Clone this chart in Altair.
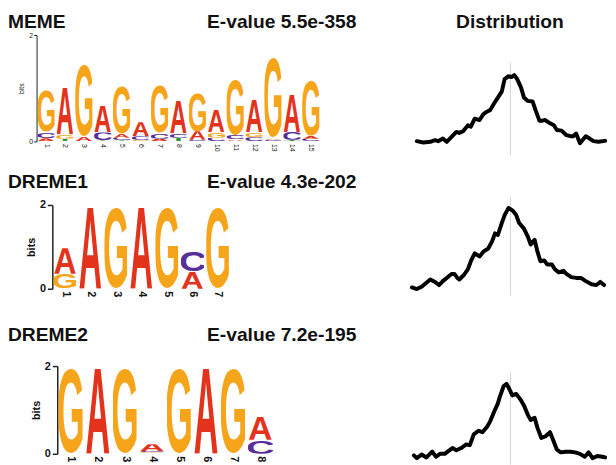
import base64
import pandas as pd
import altair as alt

# ---------------- data ----------------
MOTIF_NAMES = ["MEME", "DREME1", "DREME2"]
EVALUES = ["E-value 5.5e-358", "E-value 4.3e-202", "E-value 7.2e-195"]
DIST_TITLE = "Distribution"

# information content (bits) per letter and position
MEME_A = [0.06, 0.90, 0.09, 0.50, 0.07, 0.26, 0.05, 0.62, 0.16, 0.42, 0.04, 0.61, 0.04, 0.72, 0.06]
MEME_C = [0.12, 0.00, 0.00, 0.15, 0.05, 0.07, 0.11, 0.08, 0.03, 0.07, 0.08, 0.08, 0.03, 0.15, 0.05]
MEME_G = [0.80, 0.09, 1.40, 0.00, 0.93, 0.03, 0.92, 0.00, 0.74, 0.10, 1.08, 0.09, 1.56, 0.00, 1.08]
MEME_T = [0.00, 0.05, 0.00, 0.02, 0.02, 0.00, 0.00, 0.07, 0.00, 0.00, 0.00, 0.00, 0.00, 0.03, 0.00]

DREME1_A = [0.61, 2.00, 0.00, 2.00, 0.00, 0.42, 0.00]
DREME1_C = [0.00, 0.00, 0.00, 0.00, 0.00, 0.50, 0.00]
DREME1_G = [0.36, 0.00, 2.00, 0.00, 2.00, 0.00, 2.00]
DREME1_T = [0.00, 0.00, 0.00, 0.00, 0.00, 0.00, 0.00]

DREME2_A = [0.00, 2.00, 0.00, 0.15, 0.00, 2.00, 0.00, 0.54]
DREME2_C = [0.00, 0.00, 0.00, 0.03, 0.00, 0.00, 0.00, 0.32]
DREME2_G = [2.00, 0.00, 2.00, 0.02, 2.00, 0.00, 2.00, 0.00]
DREME2_T = [0.00, 0.00, 0.00, 0.015, 0.00, 0.00, 0.00, 0.00]

# site distribution curves (position relative to centre, relative density)
DIST1_POS = [-97, -90, -83, -78, -75, -70, -66, -61, -56, -53, -49, -44, -41, -37, -32, -28, -24,
             -21, -17, -13, -9, -6, -2, 1, 4, 7, 11, 14, 18, 23, 26, 30, 33, 36, 41, 45, 48, 53,
             58, 62, 65, 68, 72, 76, 78, 82, 86, 91, 98]
DIST1_VAL = [0.00, -0.02, -0.01, 0.015, 0.00, 0.04, -0.01, 0.066, 0.14, 0.125, 0.15, 0.24, 0.22,
             0.34, 0.32, 0.41, 0.45, 0.47, 0.57, 0.66, 0.75, 0.94, 0.985, 0.97, 1.00, 0.94, 0.81,
             0.66, 0.61, 0.60, 0.47, 0.31, 0.31, 0.32, 0.27, 0.24, 0.17, 0.16, 0.09, 0.075, 0.075,
             0.115, -0.03, 0.04, 0.075, 0.04, 0.00, -0.01, 0.005]

DIST2_POS = [-102, -97, -92, -87, -83, -78, -74, -70, -66, -61, -58, -55, -53, -48, -44, -41, -37,
             -32, -28, -23, -19, -16, -13, -9, -6, -2, 2, 6, 9, 14, 18, 21, 25, 28, 31, 35, 38, 43,
             46, 50, 55, 58, 63, 68, 73, 78, 84, 89, 93, 97]
DIST2_VAL = [0.00, -0.02, 0.01, 0.06, 0.10, 0.07, 0.03, 0.08, 0.12, 0.17, 0.17, 0.12, 0.10, 0.16,
             0.23, 0.33, 0.43, 0.39, 0.45, 0.49, 0.58, 0.68, 0.66, 0.81, 0.91, 1.00, 0.97, 0.91,
             0.81, 0.74, 0.64, 0.54, 0.60, 0.45, 0.33, 0.34, 0.29, 0.29, 0.23, 0.19, 0.21, 0.17,
             0.13, 0.12, 0.12, 0.08, 0.04, 0.03, 0.07, 0.03]

DIST3_POS = [-100, -97, -92, -87, -81, -77, -73, -68, -65, -60, -56, -51, -46, -42, -38, -33, -29,
             -24, -21, -17, -13, -11, -7, -4, -2, 2, 6, 11, 14, 18, 21, 25, 28, 32, 36, 41, 44, 48,
             52, 57, 62, 67, 72, 77, 81, 85, 90, 95, 98]
DIST3_VAL = [0.01, -0.03, 0.02, -0.02, 0.06, -0.01, 0.03, 0.03, 0.06, 0.11, 0.08, 0.11, 0.16, 0.15,
             0.30, 0.35, 0.33, 0.41, 0.48, 0.61, 0.73, 0.82, 0.97, 1.00, 0.95, 0.84, 0.86, 0.77,
             0.70, 0.57, 0.50, 0.53, 0.39, 0.25, 0.27, 0.33, 0.23, 0.09, 0.05, 0.06, 0.06, 0.05,
             0.03, -0.01, 0.05, -0.03, 0.00, -0.01, -0.02]

# ---------------- styling ----------------
FONT = "Liberation Sans"
COLORS = {"A": "#e3331c", "C": "#5a2e98", "G": "#f6a51b", "T": "#27983a"}
# approximate glyph ink boxes (font units) for a bold Helvetica-like font
GLYPH_BOX = {"A": (0, 0, 1479, 1466), "C": (98, -25, 1380, 1491),
             "G": (96, -25, 1490, 1491), "T": (40, 0, 1210, 1466)}


def letter_url(ch):
    x0, y0, x1, y1 = GLYPH_BOX[ch]
    w, h = x1 - x0, y1 - y0
    svg = (f'<svg xmlns="http://www.w3.org/2000/svg" width="{w}" height="{h}" '
           f'viewBox="{x0} {-y1} {w} {h}" preserveAspectRatio="none">'
           f'<text x="0" y="0" font-family="Liberation Sans, Arial, Helvetica, sans-serif" '
           f'font-weight="700" font-size="2048" fill="{COLORS[ch]}">{ch}</text></svg>')
    return "data:image/svg+xml;base64," + base64.b64encode(svg.encode()).decode()


URLS = {ch: letter_url(ch) for ch in "ACGT"}


def logo_frame(a, c, g, t):
    cols = {"A": a, "C": c, "G": g, "T": t}
    rows = []
    for i in range(len(a)):
        stack = sorted((cols[l][i], l) for l in "ACGT" if cols[l][i] > 0)
        base = 0.0
        for h, l in stack:
            rows.append({"pos": i + 1, "xa": i + 1 - 0.46, "xb": i + 1 + 0.46,
                         "y0": base, "y1": base + h, "letter": l, "url": URLS[l]})
            base += h
    return pd.DataFrame(rows)


def text_layer(txt, x, y, align="left"):
    return alt.Chart(pd.DataFrame({"t": [txt]})).mark_text(
        align=align, baseline="alphabetic", font=FONT, fontSize=19.5,
        fontWeight="bold", color="#111111"
    ).encode(text="t:N", x=alt.value(x), y=alt.value(y))


def logo_chart(df, n, width, height, x_start, axis_shift, name, evalue, title_y, big):
    lab = 11 if big else 7
    xaxis = alt.Axis(values=list(range(1, n + 1)), labelAngle=90, ticks=False, domain=False,
                     grid=False, labelFontSize=lab, labelFont=FONT,
                     labelFontWeight="bold" if big else "normal", labelColor="#111111",
                     labelPadding=2, labelOverlap=False, labelFlush=False, title=None, format="d")
    yaxis = alt.Axis(values=[0, 1, 2], grid=False, labelFontSize=lab, labelFont=FONT,
                     labelFontWeight="bold" if big else "normal", labelColor="#111111",
                     tickSize=5 if big else 3, labelPadding=2 if big else 1,
                     domainColor="#222222", tickColor="#222222",
                     domainWidth=1.5 if big else 1, tickWidth=1.5 if big else 1,
                     labelOverlap=False, labelFlush=False, format="d", offset=axis_shift,
                     title="bits", titleFont=FONT, titleFontSize=lab,
                     titleFontWeight="bold" if big else "normal", titleColor="#111111",
                     titlePadding=3 if big else 4)
    letters = alt.Chart(df).mark_image(aspect=False).encode(
        x=alt.X("xa:Q", scale=alt.Scale(domain=[x_start, n + 0.5], nice=False, zero=False),
                axis=xaxis),
        x2="xb:Q",
        y=alt.Y("y1:Q", scale=alt.Scale(domain=[0, 2], nice=False), axis=yaxis),
        y2="y0:Q",
        url=alt.Url("url:N"),
    )
    return alt.layer(
        letters,
        text_layer(name, -29, title_y),
        text_layer(evalue, 173, title_y),
    ).properties(width=width, height=height)


def dist_chart(pos, val, height, lo, hi, rule_top, rule_bot, title=None, title_y=0):
    df = pd.DataFrame({"pos": pos, "val": val})
    xs = alt.Scale(domain=[-102, 100], nice=False, zero=False)
    ys = alt.Scale(domain=[lo, hi], nice=False, zero=False)
    rule = alt.Chart(pd.DataFrame({"c": [0], "top": [rule_top], "bot": [rule_bot]})).mark_rule(
        color="#d4d4d4", strokeWidth=1
    ).encode(x=alt.X("c:Q", scale=xs, axis=None), y=alt.Y("top:Q", scale=ys, axis=None), y2="bot:Q")
    line = alt.Chart(df).mark_line(
        color="#000000", strokeWidth=4, strokeJoin="round", strokeCap="round"
    ).encode(x=alt.X("pos:Q", scale=xs, axis=None), y=alt.Y("val:Q", scale=ys, axis=None))
    layers = [rule, line]
    if title:
        layers.append(text_layer(title, 99.5, title_y, align="center"))
    return alt.layer(*layers).properties(width=198, height=height)


logo1 = logo_chart(logo_frame(MEME_A, MEME_C, MEME_G, MEME_T), 15, 288, 108, 0.5, 0,
                   MOTIF_NAMES[0], EVALUES[0], -7.5, False)
logo2 = logo_chart(logo_frame(DREME1_A, DREME1_C, DREME1_G, DREME1_T), 7, 197, 85, -0.12, -16,
                   MOTIF_NAMES[1], EVALUES[1], -17, True)
logo3 = logo_chart(logo_frame(DREME2_A, DREME2_C, DREME2_G, DREME2_T), 8, 241, 89, -0.264, -21,
                   MOTIF_NAMES[2], EVALUES[2], -25, True)

dist1 = dist_chart(DIST1_POS, DIST1_VAL, 108, -0.0045, 1.607, 1.19, -0.21, DIST_TITLE, -7.5)
dist2 = dist_chart(DIST2_POS, DIST2_VAL, 85, -0.016, 1.037, 1.14, -0.10)
dist3 = dist_chart(DIST3_POS, DIST3_VAL, 89, 0.031, 1.246, 1.17, -0.12)


def row(logo, dist, gap):
    return alt.concat(logo, dist, columns=2, spacing=gap, bounds="flush", align="none")


row1 = row(logo1, dist1, 93)
row2 = row(logo2, dist2, 184)
row3 = row(logo3, dist3, 140)

top_two = alt.concat(row1, row2, columns=1, spacing=16.5, align="none")
chart = alt.concat(
    top_two, row3, columns=1, spacing=29, align="none",
).properties(padding=0).configure_view(stroke=None)

chart.save("out.html", embed_options={"renderer": "svg", "actions": False})
